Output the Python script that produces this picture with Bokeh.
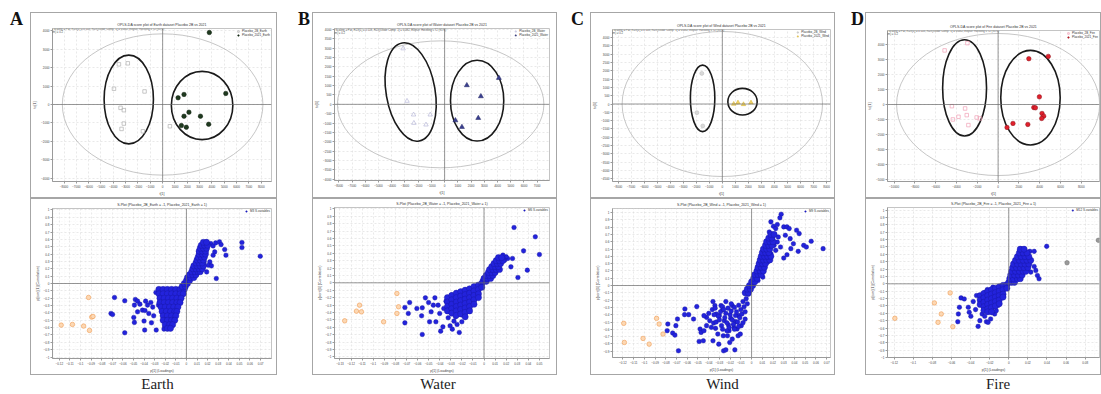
from bokeh.plotting import figure
from bokeh.models import Range1d, Span, Label, Legend, LegendItem, Div, Spacer, FixedTicker
from bokeh.layouts import row, column
from bokeh.embed import file_html
from bokeh.resources import INLINE

# ======================= DATA =======================
PANEL_LETTERS = ["A", "B", "C", "D"]
PANEL_NAMES = ["Earth", "Water", "Wind", "Fire"]
GROUP_LABELS = [
    ["Placebo_2B_Earth", "Placebo_2021_Earth"],
    ["Placebo_2B_Water", "Placebo_2021_Water"],
    ["Placebo_2B_Wind", "Placebo_2021_Wind"],
    ["Placebo_2B_Fire", "Placebo_2021_Fire"],
]

# ---- score plots: t[1] (x) and to[1] (y) ----
A_G1_X = [-3547, -2827, -3947, -1467, -3413, -3147, -3147, -3333, -1600, 587]
A_G1_Y = [2182, 2236, 855, 709, -182, -309, -1036, -1327, -1455, -1182]
A_G2_X = [3787, 1253, 1733, 5120, 2133, 1733, 3067, 1520, 1920, 3733]
A_G2_Y = [3909, 364, 545, 600, -418, -636, -636, -1145, -1236, -1073]

B_G1_X = [-3137, -2841, -2347, -2322, -1087, -1408]
B_G1_Y = [2983, 179, -554, -1000, -554, -1089]
B_G2_X = [4100, 1680, 2742, 815, 1309, 2544]
B_G2_Y = [1411, 1018, 429, -857, -1214, -732]

C_G1_X = [-1575, -1950, -1500]
C_G1_Y = [1840, -520, -1320]
C_G2_X = [875, 1200, 1625, 2200]
C_G2_Y = [0, 80, -20, 80]

D_G1_X = [-5144, -2953, -4445, -3810, -3175, -3016, -2858, -2064, -1746, -4350]
D_G1_Y = [3619, 4107, -111, -821, -266, -710, -1376, -866, -932, -999]
D_G2_X = [2953, 4826, 3969, 3429, 3588, 4223, 4382, 4191, 1429, 857, 2858]
D_G2_Y = [3064, 3219, 511, -200, -222, -599, -777, -932, -1265, -1532, -1332]

# ellipses: first = Hotelling T2 (95%), then the two group ellipses
A_ELL = dict(x=[0, -2747, 3200], y=[0, 273, -55], w=[16270, 4000, 4987], h=[7672, 4818, 3709], a=[0, 0, 0])
B_ELL = dict(x=[-300, -2569, 2458], y=[0, 661, 196], w=[15610, 3705, 4026], h=[6787, 5322, 4322], a=[0, 0.17, 0])
C_ELL = dict(x=[0, -1512, 1550], y=[0, 340, 140], w=[15375, 1875, 2250], h=[8720, 4000, 1600], a=[0, 0, 0])
D_ELL = dict(x=[0, -3223, 3112], y=[0, 1110, 455], w=[19526, 4223, 5715], h=[9502, 6438, 6327], a=[0, 0, 0])

# ---- S-plots: p[1] (x) and p(corr)[1] (y) ----
SA_ORANGE_X = [-0.0924, -0.0894, -0.0882, -0.1182, -0.1076, -0.0970, -0.0915]
SA_ORANGE_Y = [-0.190, -0.457, -0.448, -0.566, -0.557, -0.579, -0.638]
SA_PTS = [(-0.0679, -0.190), (-0.0582, -0.235), (-0.0712, -0.407), (-0.0697, -0.421), (-0.0582, -0.670),
          (-0.0497, -0.462), (-0.0491, -0.529), (-0.0482, -0.217), (-0.0461, -0.240), (-0.0439, -0.281),
          (-0.0415, -0.362), (-0.0385, -0.240), (-0.0367, -0.294), (-0.0391, -0.367), (-0.0400, -0.511),
          (-0.0394, -0.633), (-0.0330, -0.534), (-0.0285, -0.633), (-0.0288, -0.122), (-0.0336, -0.258),
          (-0.0318, -0.321), (-0.0355, -0.407), (-0.0309, -0.439), (-0.0203, -0.588), (-0.0212, -0.620),
          (-0.0264, -0.294), (-0.0461, -0.385), (-0.0491, -0.294),
          (0.0130, 0.452), (0.0161, 0.520), (0.0191, 0.566), (0.0230, 0.543), (0.0252, 0.511), (0.0276, 0.552),
          (0.0312, 0.566), (0.0327, 0.529), (0.0361, 0.462), (0.0373, 0.385), (0.0252, 0.385), (0.0221, 0.294),
          (0.0206, 0.249), (0.0236, 0.240), (0.0282, 0.068), (0.0524, 0.557), (0.0524, 0.489), (0.0697, 0.371),
          (0.0191, 0.475), (0.0145, 0.362), (0.0167, 0.294), (0.0191, 0.158), (0.0267, 0.430)]
SA_ROWS = [(-0.08, [-0.026, -0.022, -0.018, -0.014, -0.010, -0.006, -0.002]),
           (-0.14, [-0.026, -0.022, -0.018, -0.014, -0.010, -0.006, -0.003]),
           (-0.20, [-0.025, -0.021, -0.017, -0.013, -0.009, -0.005]),
           (-0.26, [-0.025, -0.021, -0.017, -0.013, -0.009, -0.006]),
           (-0.32, [-0.024, -0.020, -0.016, -0.012, -0.008]),
           (-0.38, [-0.023, -0.019, -0.015, -0.011, -0.009]),
           (-0.44, [-0.022, -0.018, -0.014, -0.010]),
           (-0.50, [-0.022, -0.018, -0.014, -0.011]),
           (-0.56, [-0.020, -0.016, -0.013]),
           (-0.61, [-0.018, -0.015]),
           (-0.04, [-0.004, -0.001]),
           (0.00, [-0.002, 0.001]),
           (0.04, [0.000, 0.003]),
           (0.08, [0.001, 0.004, 0.007]),
           (0.12, [0.003, 0.006, 0.009]),
           (0.16, [0.005, 0.008, 0.011, 0.013]),
           (0.20, [0.006, 0.009, 0.012, 0.015]),
           (0.24, [0.007, 0.010, 0.013, 0.016]),
           (0.28, [0.009, 0.012, 0.015]),
           (0.32, [0.010, 0.013, 0.016]),
           (0.36, [0.011, 0.014, 0.017]),
           (0.40, [0.012, 0.015, 0.018]),
           (0.44, [0.012, 0.015, 0.018]),
           (0.48, [0.013, 0.016, 0.019]),
           (0.52, [0.014, 0.017, 0.020]),
           (0.56, [0.016, 0.019])]
SA_COLS = []

SB_ORANGE_X = [-0.0786, -0.0771, -0.0786, -0.1123, -0.1151, -0.1106, -0.1257, -0.0906]
SB_ORANGE_Y = [-0.144, -0.324, -0.414, -0.302, -0.383, -0.392, -0.514, -0.527]
SB_PTS = [(-0.0714, -0.541), (-0.0714, -0.333), (-0.0683, -0.414), (-0.0671, -0.266), (-0.0606, -0.347),
          (-0.0557, -0.338), (-0.0563, -0.446), (-0.0557, -0.698), (-0.0529, -0.203), (-0.0491, -0.527),
          (-0.0477, -0.392), (-0.0443, -0.203), (-0.0434, -0.527), (-0.0414, -0.302), (-0.0400, -0.414),
          (-0.0391, -0.653), (-0.0371, -0.595), (-0.0343, -0.248), (-0.0329, -0.369), (-0.0306, -0.581),
          (-0.0286, -0.626), (-0.0223, -0.671), (-0.0323, -0.473), (-0.0271, -0.518), (-0.0243, -0.563),
          (-0.0363, -0.347), (-0.0457, -0.302), (-0.0500, -0.266), (-0.0294, -0.167), (-0.0257, -0.459),
          (-0.0200, -0.527), (-0.0191, -0.437),
          (0.0271, 0.748), (0.0463, 0.622), (0.0357, 0.432), (0.0500, 0.383), (0.0391, 0.171), (0.0306, 0.072),
          (0.0257, 0.329), (0.0243, 0.216), (0.0214, 0.329), (0.0200, 0.351), (0.0171, 0.374), (0.0186, 0.306),
          (0.0151, 0.261), (0.0129, 0.284), (0.0163, 0.329)]
SB_COLS = [(-0.033, [-0.20, -0.26, -0.32, -0.38]),
           (-0.029, [-0.17, -0.23, -0.29, -0.35, -0.41]),
           (-0.025, [-0.14, -0.20, -0.26, -0.32, -0.38, -0.44]),
           (-0.021, [-0.12, -0.18, -0.24, -0.30, -0.36, -0.42]),
           (-0.017, [-0.10, -0.16, -0.22, -0.28, -0.34, -0.40, -0.46]),
           (-0.013, [-0.08, -0.14, -0.20, -0.26, -0.32, -0.38]),
           (-0.009, [-0.05, -0.11, -0.17, -0.23, -0.29]),
           (-0.005, [-0.03, -0.09, -0.15, -0.20]),
           (-0.002, [-0.01, -0.06])]
SB_ROWS = [(0.02, [-0.001, 0.002]),
           (0.06, [0.000, 0.003, 0.006]),
           (0.10, [0.002, 0.005, 0.008]),
           (0.14, [0.004, 0.007, 0.010]),
           (0.18, [0.005, 0.008, 0.011, 0.014]),
           (0.22, [0.007, 0.010, 0.013]),
           (0.26, [0.009, 0.012, 0.015]),
           (0.30, [0.011, 0.014, 0.017]),
           (0.34, [0.013, 0.016])]

SC_ORANGE_X = [-0.1192, -0.1186, -0.1012, -0.0955, -0.0886, -0.0862, -0.0826]
SC_ORANGE_Y = [-0.518, -0.780, -0.725, -0.803, -0.450, -0.528, -0.665]
SC_PTS = [(-0.0781, -0.528), (-0.0787, -0.619), (-0.0736, -0.651), (-0.0715, -0.679), (-0.0706, -0.550),
          (-0.0691, -0.459), (-0.0682, -0.894), (-0.0622, -0.321), (-0.0625, -0.399), (-0.0586, -0.399),
          (-0.0541, -0.459), (-0.0511, -0.289), (-0.0480, -0.596), (-0.0471, -0.642), (-0.0444, -0.619),
          (-0.0489, -0.766), (-0.0450, -0.757), (-0.0420, -0.436), (-0.0399, -0.381), (-0.0366, -0.330),
          (-0.0360, -0.220), (-0.0342, -0.275), (-0.0354, -0.514), (-0.0336, -0.587), (-0.0360, -0.757),
          (-0.0315, -0.665), (-0.0306, -0.803), (-0.0285, -0.275), (-0.0270, -0.330), (-0.0264, -0.688),
          (-0.0261, -0.894), (-0.0240, -0.881), (-0.0225, -0.688), (-0.0210, -0.619), (-0.0204, -0.780),
          (-0.0180, -0.734), (-0.0156, -0.881), (-0.0135, -0.596), (-0.0180, -0.275), (-0.0240, -0.220),
          (-0.0300, -0.413), (-0.0255, -0.482), (-0.0375, -0.573), (-0.0330, -0.390), (-0.0390, -0.482),
          (-0.0420, -0.550), (-0.0444, -0.413), (-0.0216, -0.541), (-0.0195, -0.450), (-0.0165, -0.573),
          (-0.0150, -0.495), (-0.0126, -0.688), (-0.0105, -0.665), (-0.0120, -0.413), (-0.0096, -0.550),
          (-0.034, -0.31), (-0.031, -0.42), (-0.033, -0.50), (-0.029, -0.36), (-0.028, -0.55), (-0.027, -0.29),
          (-0.025, -0.44), (-0.024, -0.38), (-0.023, -0.51), (-0.022, -0.31), (-0.021, -0.58), (-0.020, -0.40),
          (-0.019, -0.35), (-0.018, -0.47), (-0.017, -0.53), (-0.016, -0.30), (-0.015, -0.41), (-0.014, -0.36),
          (-0.013, -0.50), (-0.012, -0.27), (-0.011, -0.44), (-0.010, -0.33), (-0.009, -0.39), (-0.008, -0.22),
          (-0.007, -0.29), (-0.006, -0.46), (-0.005, -0.18), (-0.004, -0.25), (-0.003, -0.12), (-0.030, -0.47),
          (-0.026, -0.33), (-0.019, -0.25), (-0.012, -0.56), (-0.008, -0.51), (-0.016, -0.60), (-0.023, -0.62),
          (-0.035, -0.40), (-0.027, -0.60), (-0.006, -0.36), (-0.002, -0.08),
          (0.0276, 0.977), (0.0264, 0.927), (0.0204, 0.812), (0.0225, 0.780), (0.0240, 0.835), (0.0300, 0.803),
          (0.0330, 0.803), (0.0351, 0.780), (0.0180, 0.872), (0.0249, 0.665), (0.0360, 0.642), (0.0420, 0.757),
          (0.0444, 0.711), (0.0486, 0.550), (0.0511, 0.528), (0.0556, 0.606), (0.0667, 0.505), (0.0435, 0.468),
          (0.0366, 0.505), (0.0330, 0.422), (0.0300, 0.376), (0.0210, 0.550), (0.0225, 0.482), (0.0186, 0.688),
          (0.0165, 0.734), (0.0195, 0.619), (0.0240, 0.596), (0.0270, 0.528), (0.0156, 0.505), (0.0180, 0.436),
          (0.0150, 0.321), (0.0120, 0.252), (0.0135, 0.390), (0.0315, 0.688), (0.0390, 0.573), (0.0105, 0.115),
          (0.0060, 0.069)]
SC_COLS = []
SC_ROWS = [(-0.10, [-0.006, -0.003]),
           (-0.05, [-0.004, -0.001]),
           (0.00, [-0.002, 0.001]),
           (0.05, [0.000, 0.003]),
           (0.10, [0.002, 0.005]),
           (0.15, [0.003, 0.006, 0.009]),
           (0.20, [0.005, 0.008, 0.011]),
           (0.25, [0.006, 0.009, 0.012]),
           (0.30, [0.007, 0.010, 0.013]),
           (0.35, [0.008, 0.011, 0.014, 0.017]),
           (0.40, [0.009, 0.012, 0.015, 0.018]),
           (0.45, [0.010, 0.013, 0.016]),
           (0.50, [0.011, 0.014, 0.017]),
           (0.55, [0.013, 0.016, 0.019]),
           (0.60, [0.014, 0.017, 0.020]),
           (0.65, [0.016, 0.019]),
           (0.70, [0.018, 0.021])]

SD_ORANGE_X = [-0.1193, -0.0779, -0.0614, -0.0707, -0.0741, -0.0586]
SD_ORANGE_Y = [-0.468, -0.259, -0.123, -0.409, -0.523, -0.582]
SD_GRAY_X = [0.0610, 0.0938]
SD_GRAY_Y = [0.286, 0.591]
SD_PTS = [(-0.0534, -0.514), (-0.0528, -0.409), (-0.0517, -0.318), (-0.0500, -0.191), (-0.0466, -0.205),
          (-0.0424, -0.318), (-0.0414, -0.386), (-0.0397, -0.441), (-0.0372, -0.241), (-0.0348, -0.350),
          (-0.0321, -0.577), (-0.0303, -0.500), (-0.0338, -0.159), (-0.0293, -0.182), (-0.0279, -0.409),
          (-0.0252, -0.441), (-0.0234, -0.514), (-0.0217, -0.523), (-0.0190, -0.477), (-0.0148, -0.409),
          (-0.0131, -0.364), (-0.0114, -0.295), (-0.0245, -0.114), (-0.0224, -0.077), (-0.0166, -0.045),
          (0.0128, 0.477), (0.0162, 0.468), (0.0117, 0.423), (0.0145, 0.395), (0.0190, 0.341), (0.0221, 0.441),
          (0.0266, 0.441), (0.0214, 0.350), (0.0266, 0.236), (0.0283, 0.182), (0.0300, 0.114), (0.0317, 0.068),
          (0.0231, 0.159), (0.0197, 0.205), (0.0397, 0.509), (0.0155, 0.318)]
SD_COLS = [(-0.030, [-0.16, -0.22, -0.28]),
           (-0.026, [-0.13, -0.19, -0.25, -0.31, -0.36]),
           (-0.022, [-0.10, -0.16, -0.22, -0.28, -0.34, -0.38]),
           (-0.018, [-0.08, -0.14, -0.20, -0.26, -0.32, -0.38]),
           (-0.014, [-0.06, -0.12, -0.18, -0.24, -0.30]),
           (-0.010, [-0.04, -0.10, -0.16, -0.22, -0.27]),
           (-0.006, [-0.02, -0.08, -0.14, -0.18]),
           (-0.002, [-0.01, -0.06])]
SD_ROWS = [(0.02, [0.000, 0.003, 0.006]),
           (0.07, [0.001, 0.005, 0.009, 0.012]),
           (0.12, [0.002, 0.006, 0.010, 0.014]),
           (0.17, [0.003, 0.007, 0.011, 0.015, 0.018]),
           (0.22, [0.004, 0.008, 0.012, 0.016, 0.020]),
           (0.27, [0.005, 0.009, 0.013, 0.017, 0.021]),
           (0.32, [0.007, 0.011, 0.015, 0.019, 0.023]),
           (0.37, [0.009, 0.013, 0.017, 0.021]),
           (0.42, [0.011, 0.015, 0.019]),
           (0.47, [0.012, 0.016])]

FOOTER = "SIMCA 14.1 - 2021-06-18 10:24:31 (UTC+8)"

# ======================= STYLE / HELPERS =======================
SANS = "Liberation Sans"
BLUE, BLUE_EDGE = "#2323dc", "#16169e"
SIZE_SPARSE, SIZE_DENSE = 4.6, 6.2


def blue_points(pts, cols, rows):
    xs = [p[0] for p in pts]
    ys = [p[1] for p in pts]
    sz = [SIZE_SPARSE] * len(pts)
    for x, yl in cols:
        xs += [x] * len(yl)
        ys += list(yl)
        sz += [SIZE_DENSE] * len(yl)
    for y, xl in rows:
        xs += list(xl)
        ys += [y] * len(xl)
        sz += [SIZE_DENSE] * len(xl)
    return xs, ys, sz


def tiny_axes(p, xticks, yticks, xminor, yminor, xlabel, ylabel):
    xt = FixedTicker(ticks=xticks, minor_ticks=xminor)
    yt = FixedTicker(ticks=yticks, minor_ticks=yminor)
    p.xaxis.ticker = xt
    p.xgrid.ticker = xt
    p.yaxis.ticker = yt
    p.ygrid.ticker = yt
    for ax in list(p.xaxis) + list(p.yaxis):
        ax.major_label_text_font = SANS
        ax.major_label_text_font_size = "3px"
        ax.major_label_text_color = "#444444"
        ax.axis_label_text_font = SANS
        ax.axis_label_text_font_size = "3.5px"
        ax.axis_label_text_font_style = "normal"
        ax.axis_label_text_color = "#444444"
        ax.axis_label_standoff = 1
        ax.major_label_standoff = 1
        ax.major_tick_out = 2
        ax.major_tick_in = 0
        ax.minor_tick_out = 0
        ax.minor_tick_in = 0
        ax.axis_line_color = "#9a9a9a"
        ax.major_tick_line_color = "#9a9a9a"
    p.xaxis.axis_label = xlabel
    p.yaxis.axis_label = ylabel
    for g in list(p.xgrid) + list(p.ygrid):
        g.grid_line_color = "#dadada"
        g.grid_line_dash = "2 2"
        g.grid_line_width = 0.6
        g.minor_grid_line_color = "#ececec"
        g.minor_grid_line_dash = "1 2"
        g.minor_grid_line_width = 0.5


def base_fig(w, h, bl, br, bt, bb, xr, yr, title):
    p = figure(width=w, height=h, x_range=Range1d(*xr), y_range=Range1d(*yr), title=title,
               output_backend="svg", toolbar_location=None,
               min_border_left=bl, min_border_right=br, min_border_top=bt, min_border_bottom=bb)
    p.border_fill_color = None
    p.background_fill_color = "white"
    p.outline_line_color = "#c4c4c4"
    p.styles = {"outline": "1px solid #a6a6a6", "outline-offset": "-1px"}
    p.title.text_font = SANS
    p.title.text_font_size = "3.5px"
    p.title.text_font_style = "normal"
    p.title.text_color = "#333333"
    p.title.align = "center"
    p.title.standoff = 3
    p.add_layout(Span(location=0, dimension="width", line_color="#6a6a6a", line_width=0.7))
    p.add_layout(Span(location=0, dimension="height", line_color="#6a6a6a", line_width=0.7))
    return p


def tiny_label(p, x, y, text, align="left", color="#555555", size="2.8px"):
    p.add_layout(Label(x=x, y=y, x_units="screen", y_units="screen", text=text, text_align=align,
                       text_font=SANS, text_font_size=size, text_color=color, text_baseline="middle"))


def tiny_legend(p, items):
    leg = Legend(items=items, location="top_right", orientation="vertical",
                 label_text_font=SANS, label_text_font_size="3px", label_text_color="#333333",
                 label_height=4, label_standoff=2, glyph_height=4, glyph_width=4,
                 spacing=0, padding=1, margin=1, border_line_color=None,
                 background_fill_color="white", background_fill_alpha=0.8)
    p.add_layout(leg)


def score_plot(w, h, bl, br, bt, bb, xr, yr, xticks, yticks, title, g1, g2, ell, labels, st1, st2, stats):
    p = base_fig(w, h, bl, br, bt, bb, xr, yr, title)
    tiny_axes(p, xticks, yticks, [], [], "t[1]", "to[1]")
    p.ellipse(x=ell["x"][:1], y=ell["y"][:1], width=ell["w"][:1], height=ell["h"][:1], angle=ell["a"][:1],
              fill_color=None, line_color="#b8b8b8", line_width=0.8)
    p.ellipse(x=ell["x"][1:], y=ell["y"][1:], width=ell["w"][1:], height=ell["h"][1:], angle=ell["a"][1:],
              fill_color=None, line_color="#1a1a1a", line_width=1.6)
    r1 = p.scatter(g1[0], g1[1], **st1)
    r2 = p.scatter(g2[0], g2[1], **st2)
    fw, fh = w - bl - br, h - bt - bb
    tiny_legend(p, [LegendItem(label=labels[0], renderers=[r1]), LegendItem(label=labels[1], renderers=[r2])])
    tiny_label(p, 1, fh - 1.5, stats[0])
    tiny_label(p, -9, fh - 4.5, stats[1])
    tiny_label(p, fw - 3, -11.5, FOOTER, align="right", color="#888888", size="2.4px")
    return p


def s_plot(w, h, bl, br, bt, bb, xr, yr, xticks, xminor, title, blue, orange, gray, leg_label):
    p = base_fig(w, h, bl, br, bt, bb, xr, yr, title)
    yticks = [round(i * 0.1, 1) for i in range(-10, 11)]
    yminor = [round(i * 0.1 + 0.05, 2) for i in range(-11, 11)]
    tiny_axes(p, xticks, yticks, xminor, yminor, "p[1] (Loadings)", "p(corr)[1] (Correlation)")
    p.scatter(orange[0], orange[1], size=4.5, fill_color="#fcd8b4", line_color="#f09a50", line_width=0.6)
    if gray is not None:
        p.scatter(gray[0], gray[1], size=4.5, fill_color="#9a9a9a", line_color="#707070", line_width=0.5)
    rb = p.scatter(x=blue[0], y=blue[1], size=blue[2], fill_color=BLUE, line_color=BLUE_EDGE, line_width=0.4)
    fw, fh = w - bl - br, h - bt - bb
    tiny_legend(p, [LegendItem(label=leg_label, renderers=[rb])])
    tiny_label(p, fw - 3, -12, FOOTER, align="right", color="#888888", size="2.4px")
    return p


def letter_div(ch, w, pad):
    html = ('<div style="font-family:\'Liberation Serif\';font-weight:bold;font-size:18px;'
            'line-height:18px;padding-left:%dpx;padding-top:10px;color:#111">%s</div>' % (pad, ch))
    return Div(text=html, width=w, height=32, margin=0)


def caption_div(text, w, pad):
    html = ('<div style="display:block;width:%dpx;box-sizing:border-box;font-family:\'Liberation Serif\';'
            'font-size:15px;line-height:19px;text-align:center;padding-left:%dpx;color:#222">%s</div>'
            % (w, pad, text))
    return Div(text=html, width=w, height=19, margin=0)


def ticks(a, b, step, nd):
    n = int(round((b - a) / step))
    return [round(a + i * step, nd) for i in range(n + 1)]


# ======================= BUILD =======================
G1A = dict(marker="square", size=3.5, fill_color=None, line_color="#b0b0b0", line_width=0.7)
G2A = dict(marker="circle", size=4.5, fill_color="#1f3a1f", line_color="#0f1f0f", line_width=0.5)
G1B = dict(marker="triangle", size=4.5, fill_color=None, line_color="#b8b8d8", line_width=0.7)
G2B = dict(marker="triangle", size=5, fill_color="#3a3f90", line_color="#1e2260", line_width=0.5)
G1C = dict(marker="circle", size=4, fill_color="#d8d8d8", line_color="#b8b8b8", line_width=0.5)
G2C = dict(marker="triangle", size=4.5, fill_color="#f2d465", line_color="#d4b030", line_width=0.5)
G1D = dict(marker="square", size=3.5, fill_color=None, line_color="#f0a0b6", line_width=0.7)
G2D = dict(marker="circle", size=4.5, fill_color="#e0202c", line_color="#8a1018", line_width=0.5)

STATS = ["Scaling = Par, R2X[1] = 0.118, R2X[XSide Comp. 1] = 0.082, Ellipse: Hotelling's T2 (95%)",
         "R2X(cum) = 0.2"]

sA = score_plot(247, 186, 19, 6, 16, 16, (-8933, 8829), (-4182, 4127),
                ticks(-8000, 8000, 1000, 0), ticks(-4000, 4000, 1000, 0),
                "OPLS-DA score plot of Earth dataset Placebo 2B vs 2021",
                (A_G1_X, A_G1_Y), (A_G2_X, A_G2_Y), A_ELL, GROUP_LABELS[0], G1A, G2A, STATS)
sB = score_plot(245, 186, 18, 8, 16, 18, (-8324, 7929), (-4072, 4054),
                ticks(-8000, 7000, 1000, 0), ticks(-4000, 4000, 500, 0),
                "OPLS-DA score plot of Water dataset Placebo 2B vs 2021",
                (B_G1_X, B_G1_Y), (B_G2_X, B_G2_Y), B_ELL, GROUP_LABELS[1], G1B, G2B, STATS)
sC = score_plot(245, 186, 19, 4, 17, 16, (-8425, 8300), (-4660, 4480),
                ticks(-8000, 8000, 1000, 0), ticks(-4500, 4000, 500, 0),
                "OPLS-DA score plot of Wind dataset Placebo 2B vs 2021",
                (C_G1_X, C_G1_Y), (C_G2_X, C_G2_Y), C_ELL, GROUP_LABELS[2], G1C, G2C, STATS)
sD = score_plot(236, 186, 20, 2, 18, 16, (-10636, 9750), (-5150, 4951),
                ticks(-10000, 8000, 2000, 0), ticks(-5000, 4000, 1000, 0),
                "OPLS-DA score plot of Fire dataset Placebo 2B vs 2021",
                (D_G1_X, D_G1_Y), (D_G2_X, D_G2_Y), D_ELL, GROUP_LABELS[3], G1D, G2D, STATS)


def s_title(k):
    return "S-Plot (%s = -1, %s = 1)" % (GROUP_LABELS[k][0], GROUP_LABELS[k][1])


pA = s_plot(247, 177, 17, 3, 10, 17, (-0.1264, 0.0803), (-1.02, 1.02),
            ticks(-0.12, 0.07, 0.01, 2), ticks(-0.125, 0.075, 0.01, 3), s_title(0),
            blue_points(SA_PTS, SA_COLS, SA_ROWS), (SA_ORANGE_X, SA_ORANGE_Y), None, "M3 S-variables")
pB = s_plot(245, 177, 16, 3, 9, 17, (-0.1349, 0.0591), (-1.023, 1.018),
            ticks(-0.13, 0.05, 0.01, 2), ticks(-0.135, 0.055, 0.01, 3), s_title(1),
            blue_points(SB_PTS, SB_COLS, SB_ROWS), (SB_ORANGE_X, SB_ORANGE_Y), None, "M6 S-variables")
pC = s_plot(245, 177, 14, 5, 10, 18, (-0.1297, 0.0736), (-0.986, 1.055),
            ticks(-0.12, 0.07, 0.01, 2), ticks(-0.125, 0.075, 0.01, 3), s_title(2),
            blue_points(SC_PTS, SC_COLS, SC_ROWS), (SC_ORANGE_X, SC_ORANGE_Y), None, "M9 S-variables")
pD = s_plot(236, 177, 20, 2, 9, 18, (-0.127, 0.095), (-1.0, 1.036),
            ticks(-0.12, 0.08, 0.02, 2), ticks(-0.13, 0.09, 0.01, 3), s_title(3),
            blue_points(SD_PTS, SD_COLS, SD_ROWS), (SD_ORANGE_X, SD_ORANGE_Y), (SD_GRAY_X, SD_GRAY_Y),
            "M12 S-variables")


def panel(score, splot, w, name, pad):
    return column(Spacer(width=w, height=12), score, splot, caption_div(name, w, pad), spacing=0)


layout = row(
    letter_div("A", 30, 10), panel(sA, pA, 247, PANEL_NAMES[0], 8),
    letter_div("B", 35, 21), panel(sB, pB, 245, PANEL_NAMES[1], 7),
    letter_div("C", 33, 14), panel(sC, pC, 245, PANEL_NAMES[2], 20),
    letter_div("D", 30, 16), panel(sD, pD, 236, PANEL_NAMES[3], 30),
    spacing=0,
)

open("out.html", "w").write(file_html(layout, INLINE))
